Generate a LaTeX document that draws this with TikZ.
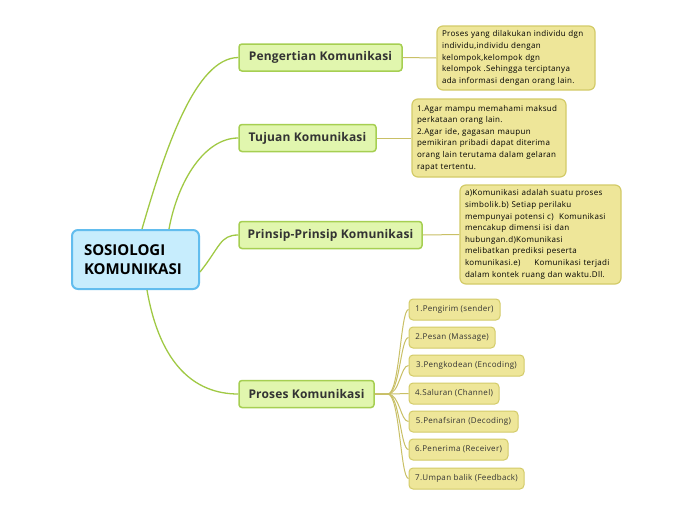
\documentclass[tikz,border=0pt]{standalone}
\usepackage{fontspec}
\setmainfont{Open Sans}
\definecolor{gfill}{HTML}{E1F6AE}
\definecolor{gline}{HTML}{A6CF52}
\definecolor{nfill}{HTML}{EEE699}
\definecolor{nline}{HTML}{D3CB68}
\definecolor{bfill}{HTML}{C7EDFD}
\definecolor{bline}{HTML}{62BDEE}
\definecolor{conn}{HTML}{A0C944}
\definecolor{oconn}{HTML}{C9C066}
\definecolor{txt}{HTML}{333333}
\tikzset{
  central/.style={draw=bline,fill=bfill,line width=2pt,rounded corners=6pt,align=left,
    font=\fontsize{15}{19.5}\selectfont\bfseries,text=black,inner sep=0pt},
  branch/.style={draw=gline,fill=gfill,line width=1.5pt,rounded corners=3pt,
    font=\fontsize{12}{14}\selectfont\bfseries\addfontfeature{LetterSpace=1.5},text=txt,inner sep=0pt,minimum height=27pt},
  note/.style={draw=nline,fill=nfill,line width=1.2pt,rounded corners=6pt,align=left,
    font=\fontsize{8}{11.6}\selectfont\addfontfeature{LetterSpace=4},text=black,inner xsep=5pt,inner ysep=0pt},
  item/.style={draw=nline,fill=nfill,line width=1pt,rounded corners=4pt,
    font=\fontsize{8}{10}\selectfont\addfontfeature{LetterSpace=4},text=txt,inner sep=0pt,minimum height=21pt},
  gconn/.style={draw=conn,line width=1.3pt},
  oline/.style={draw=oconn,line width=1pt},
}
\begin{document}
\begin{tikzpicture}[x=1pt,y=-1pt]
\useasboundingbox[fill=white] (0,0) rectangle (696,520);
\node[central,minimum width=127pt,minimum height=59pt,text width=103pt] (c) at (135.5,259.5) {SOSIOLOGI\\KOMUNIKASI};

\node[branch,minimum width=163pt] (b1) at (320.5,57.5) {Pengertian Komunikasi};
\node[branch,minimum width=137pt] (b2) at (307.5,138) {Tujuan Komunikasi};
\node[branch,minimum width=183pt] (b3) at (330.5,235) {Prinsip-Prinsip Komunikasi};
\node[branch,minimum width=135pt] (b4) at (306.5,394) {Proses Komunikasi};

\node[note,text width=148pt,minimum height=64pt] (n1) at (516,58) {Proses yang dilakukan individu dgn\\individu,individu dengan\\kelompok,kelompok dgn\\kelompok .Sehingga terciptanya\\ada informasi dengan orang lain.};
\node[note,text width=144pt,minimum height=78pt] (n2) at (489,138) {1.Agar mampu memahami maksud\\perkataan orang lain.\\2.Agar ide, gagasan maupun\\pemikiran pribadi dapat diterima\\orang lain terutama dalam gelaran\\rapat tertentu.};
\node[note,text width=151pt,minimum height=99pt] (n3) at (540.5,234.5) {a)Komunikasi adalah suatu proses\\simbolik.b) Setiap perilaku\\mempunyai potensi c)\ \ Komunikasi\\mencakup dimensi isi dan\\hubungan.d)Komunikasi\\melibatkan prediksi peserta\\komunikasi.e)\hspace{14pt}Komunikasi terjadi\\dalam kontek ruang dan waktu.Dll.};

\node[item,minimum width=91pt] (i1) at (454.5,309.5) {1.Pengirim (sender)};
\node[item,minimum width=86pt] (i2) at (452,337.5) {2.Pesan (Massage)};
\node[item,minimum width=115pt] (i3) at (466.5,365.5) {3.Pengkodean (Encoding)};
\node[item,minimum width=90pt] (i4) at (454,393.5) {4.Saluran (Channel)};
\node[item,minimum width=109pt] (i5) at (463.5,421.5) {5.Penafsiran (Decoding)};
\node[item,minimum width=99pt] (i6) at (458.5,449.5) {6.Penerima (Receiver)};
\node[item,minimum width=115pt] (i7) at (466.5,478.5) {7.Umpan balik (Feedback)};

\draw[gconn] ([xshift=71pt]c.north west) .. controls (165,150) and (195,58) .. (b1.west);
\draw[gconn] ([xshift=98pt]c.north west) .. controls (178,180) and (205,138) .. (b2.west);
\draw[gconn] ([yshift=-12.5pt]c.east) .. controls (220,247) and (220,235) .. (b3.west);
\draw[gconn] ([xshift=76pt]c.south west) .. controls (160,365) and (195,394) .. (b4.west);

\draw[oline] (b1.east) -- (n1.west);
\draw[oline] (b2.east) -- (n2.west);
\draw[oline] (b3.east) -- (n3.west);

\foreach \i in {1,...,7}{
  \draw[oline] (b4.east) -- ++(13,0) .. controls +(12,0) and +(-8,0) .. (i\i.west);
}
\end{tikzpicture}
\end{document}
